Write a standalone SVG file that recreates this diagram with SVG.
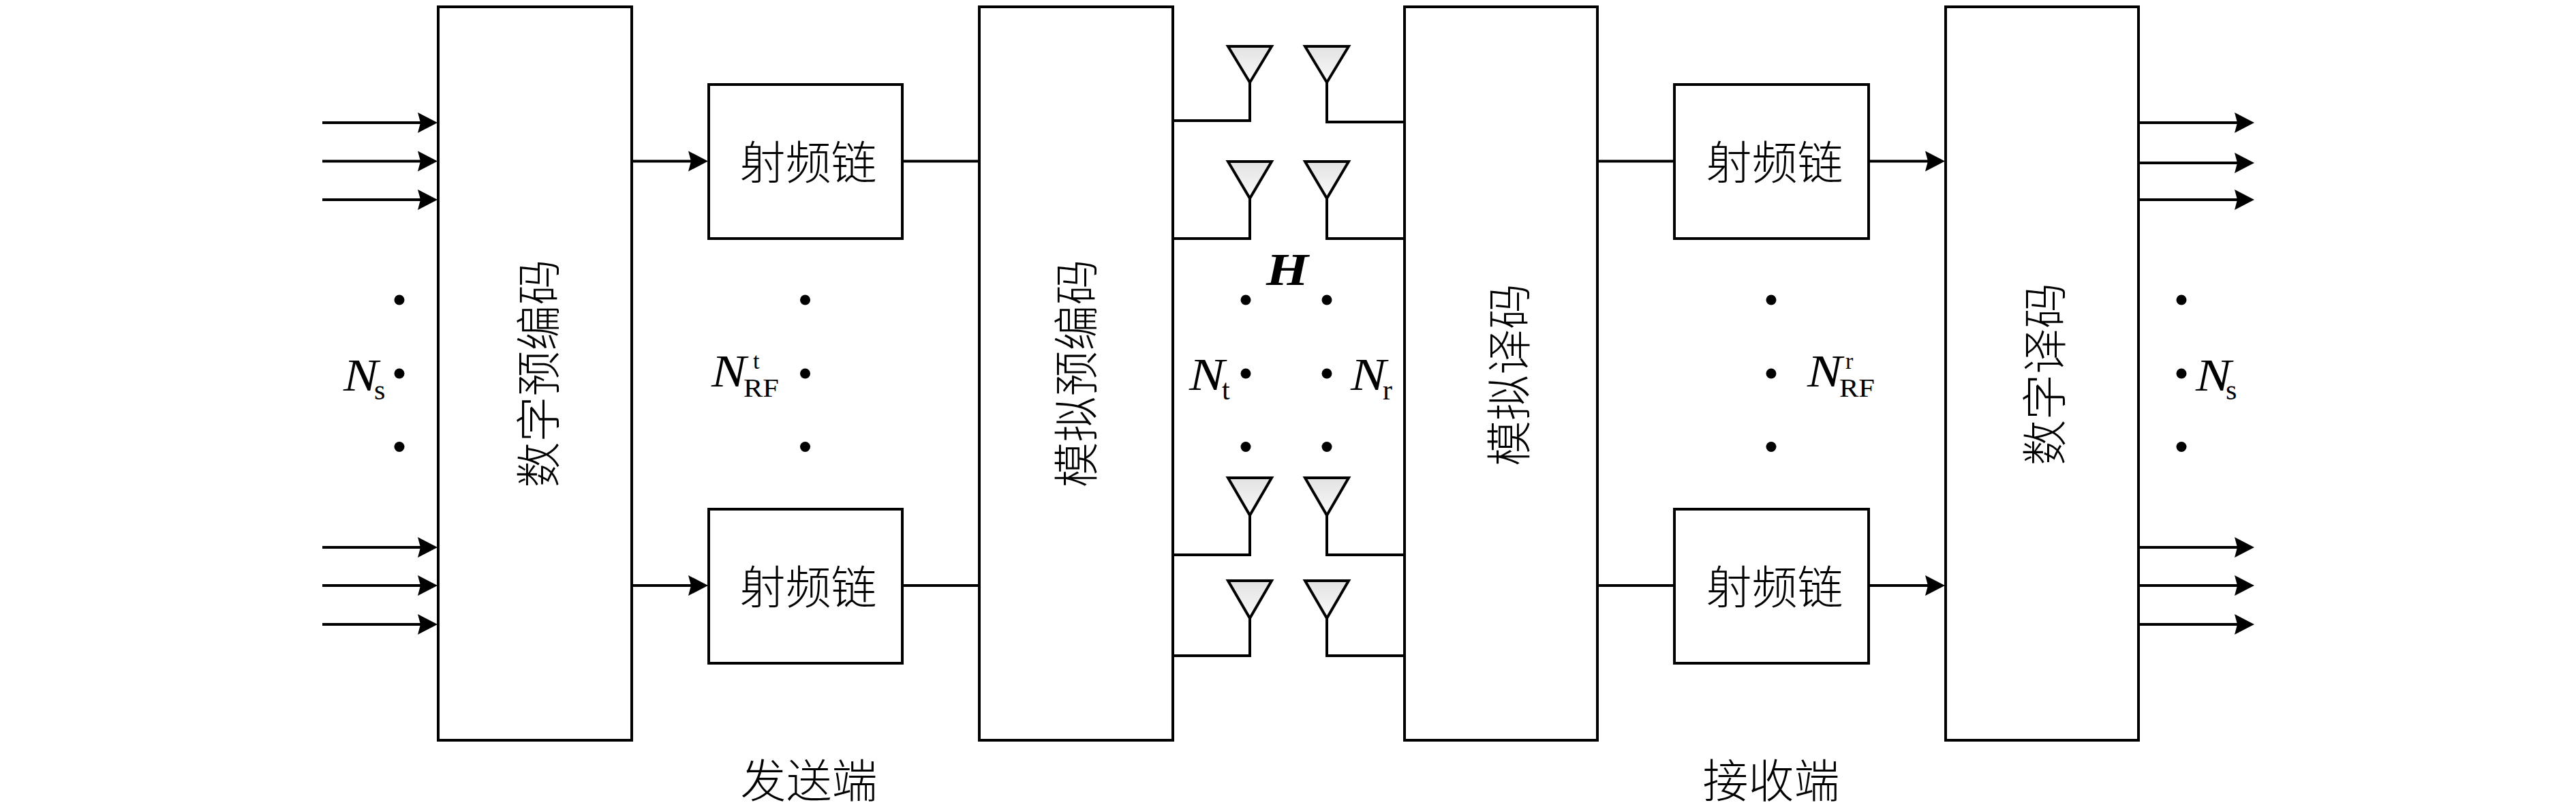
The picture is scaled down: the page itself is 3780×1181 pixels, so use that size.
<svg xmlns="http://www.w3.org/2000/svg" width="3780" height="1181" viewBox="0 0 3780 1181">
<style>
.box{fill:#fff;stroke:#000;stroke-width:4}
.ln{fill:none;stroke:#000;stroke-width:4}
.ar{marker-end:url(#head)}
.ant{fill:url(#antFill);stroke:#000;stroke-width:4;stroke-linejoin:miter}
.dot{fill:#000}
.cjk{font-family:"Noto Sans CJK SC","Liberation Serif",serif;font-size:67px;font-weight:300;text-anchor:middle;dominant-baseline:central;fill:#000}
.m{font-family:"Liberation Serif",serif;font-style:italic;font-size:68px;fill:#000}
.s{font-family:"Liberation Serif",serif;font-size:42px;fill:#000}
.sup{font-family:"Liberation Serif",serif;font-size:34px;fill:#000}
.rf{font-family:"Liberation Serif",serif;font-size:38px;fill:#000}
.b{font-family:"Liberation Serif",serif;font-style:italic;font-weight:bold;font-size:67px;fill:#000}
</style>
<defs>
<marker id="head" markerUnits="userSpaceOnUse" markerWidth="30" markerHeight="32" refX="15" refY="16" orient="auto" viewBox="0 0 30 32">
<path d="M0 1 L29 16 L0 31 L4 16 Z" fill="#000"/>
</marker>
<linearGradient id="antFill" x1="0" y1="0" x2="0" y2="1">
<stop offset="0" stop-color="#e2e2e2"/><stop offset="1" stop-color="#fafafa"/>
</linearGradient>
</defs>
<rect width="3780" height="1181" fill="#fff"/>

<g id="connectors">
<path class="ln ar" d="M473 180H628"/><path class="ln ar" d="M473 236.500H628"/><path class="ln ar" d="M473 293H628"/>
<path class="ln ar" d="M473 803H628"/><path class="ln ar" d="M473 859H628"/><path class="ln ar" d="M473 916H628"/>
<path class="ln ar" d="M927 236.500H1025"/><path class="ln ar" d="M927 859H1025"/>
<path class="ln" d="M1324 236.500H1437"/><path class="ln" d="M1324 859H1437"/>
<path class="ln" d="M1721 177H1834V106"/><path class="ln" d="M1721 350H1834V292"/>
<path class="ln" d="M1721 814H1834V756"/><path class="ln" d="M1721 962H1834V907"/>
<path class="ln" d="M2061 179H1947V106"/><path class="ln" d="M2061 350H1947V292"/>
<path class="ln" d="M2061 814H1947V756"/><path class="ln" d="M2061 962H1947V907"/>
<path class="ln" d="M2344 236.500H2457"/><path class="ln" d="M2344 859H2457"/>
<path class="ln ar" d="M2742 236.500H2840"/><path class="ln ar" d="M2742 859H2840"/>
<path class="ln ar" d="M3138 180H3294"/><path class="ln ar" d="M3138 239H3294"/><path class="ln ar" d="M3138 293H3294"/>
<path class="ln ar" d="M3138 803H3294"/><path class="ln ar" d="M3138 859H3294"/><path class="ln ar" d="M3138 916H3294"/>
</g>

<g id="digital-precoder"><rect class="box" x="643" y="10" width="284" height="1076"/><text class="cjk" transform="translate(785 548) rotate(-90)">数字预编码</text></g>
<g id="rf-chain-t1"><rect class="box" x="1040" y="124" width="284" height="226"/><text class="cjk" x="1186" y="233">射频链</text></g>
<g id="rf-chain-t2"><rect class="box" x="1040" y="747" width="284" height="226"/><text class="cjk" x="1186" y="856">射频链</text></g>
<g id="analog-precoder"><rect class="box" x="1437" y="10" width="284" height="1076"/><text class="cjk" transform="translate(1574 548) rotate(-90)">模拟预编码</text></g>
<g id="analog-decoder"><rect class="box" x="2061" y="10" width="283" height="1076"/><text class="cjk" transform="translate(2209 550) rotate(-90)">模拟译码</text></g>
<g id="rf-chain-r1"><rect class="box" x="2457" y="124" width="285" height="226"/><text class="cjk" x="2604" y="233">射频链</text></g>
<g id="rf-chain-r2"><rect class="box" x="2457" y="747" width="285" height="226"/><text class="cjk" x="2604" y="856">射频链</text></g>
<g id="digital-decoder"><rect class="box" x="2855" y="10" width="283" height="1076"/><text class="cjk" transform="translate(2995 549) rotate(-90)">数字译码</text></g>

<g id="antennas-tx">
<polygon class="ant" points="1802,68 1866,68 1834,121"/>
<polygon class="ant" points="1802,237 1866,237 1834,291"/>
<polygon class="ant" points="1802,701 1866,701 1834,756"/>
<polygon class="ant" points="1802,852 1866,852 1834,907"/>
</g>
<g id="antennas-rx">
<polygon class="ant" points="1915,68 1979,68 1947,121"/>
<polygon class="ant" points="1915,237 1979,237 1947,291"/>
<polygon class="ant" points="1915,701 1979,701 1947,756"/>
<polygon class="ant" points="1915,852 1979,852 1947,907"/>
</g>

<g id="dots">
<circle class="dot" cx="586" cy="440" r="7.500"/><circle class="dot" cx="586" cy="548" r="7.500"/><circle class="dot" cx="586" cy="655.500" r="7.500"/>
<circle class="dot" cx="1181.500" cy="440" r="7.500"/><circle class="dot" cx="1181.500" cy="548" r="7.500"/><circle class="dot" cx="1181.500" cy="655.500" r="7.500"/>
<circle class="dot" cx="1828" cy="440" r="7.500"/><circle class="dot" cx="1828" cy="548" r="7.500"/><circle class="dot" cx="1828" cy="655.500" r="7.500"/>
<circle class="dot" cx="1947" cy="440" r="7.500"/><circle class="dot" cx="1947" cy="548" r="7.500"/><circle class="dot" cx="1947" cy="655.500" r="7.500"/>
<circle class="dot" cx="2599" cy="440" r="7.500"/><circle class="dot" cx="2599" cy="548" r="7.500"/><circle class="dot" cx="2599" cy="655.500" r="7.500"/>
<circle class="dot" cx="3201" cy="440" r="7.500"/><circle class="dot" cx="3201" cy="548" r="7.500"/><circle class="dot" cx="3201" cy="655.500" r="7.500"/>
</g>

<g id="labels">
<text class="m" x="504" y="573" textLength="51" lengthAdjust="spacingAndGlyphs">N</text><text class="s" x="549" y="586">s</text>
<text class="m" x="1044" y="567" textLength="51" lengthAdjust="spacingAndGlyphs">N</text><text class="sup" x="1105" y="541">t</text><text class="rf" x="1091" y="582" textLength="52" lengthAdjust="spacingAndGlyphs">RF</text>
<text class="m" x="1745" y="572" textLength="52" lengthAdjust="spacingAndGlyphs">N</text><text class="s" x="1793" y="586">t</text>
<text class="m" x="1982" y="572" textLength="52" lengthAdjust="spacingAndGlyphs">N</text><text class="s" x="2029" y="586">r</text>
<text class="b" x="1858" y="418" textLength="62" lengthAdjust="spacingAndGlyphs">H</text>
<text class="m" x="2652" y="567" textLength="51" lengthAdjust="spacingAndGlyphs">N</text><text class="sup" x="2708" y="541">r</text><text class="rf" x="2699" y="582" textLength="52" lengthAdjust="spacingAndGlyphs">RF</text>
<text class="m" x="3222" y="573" textLength="52" lengthAdjust="spacingAndGlyphs">N</text><text class="s" x="3266" y="586">s</text>
<text class="cjk" x="1187" y="1140">发送端</text>
<text class="cjk" x="2599" y="1140">接收端</text>
</g>
</svg>
